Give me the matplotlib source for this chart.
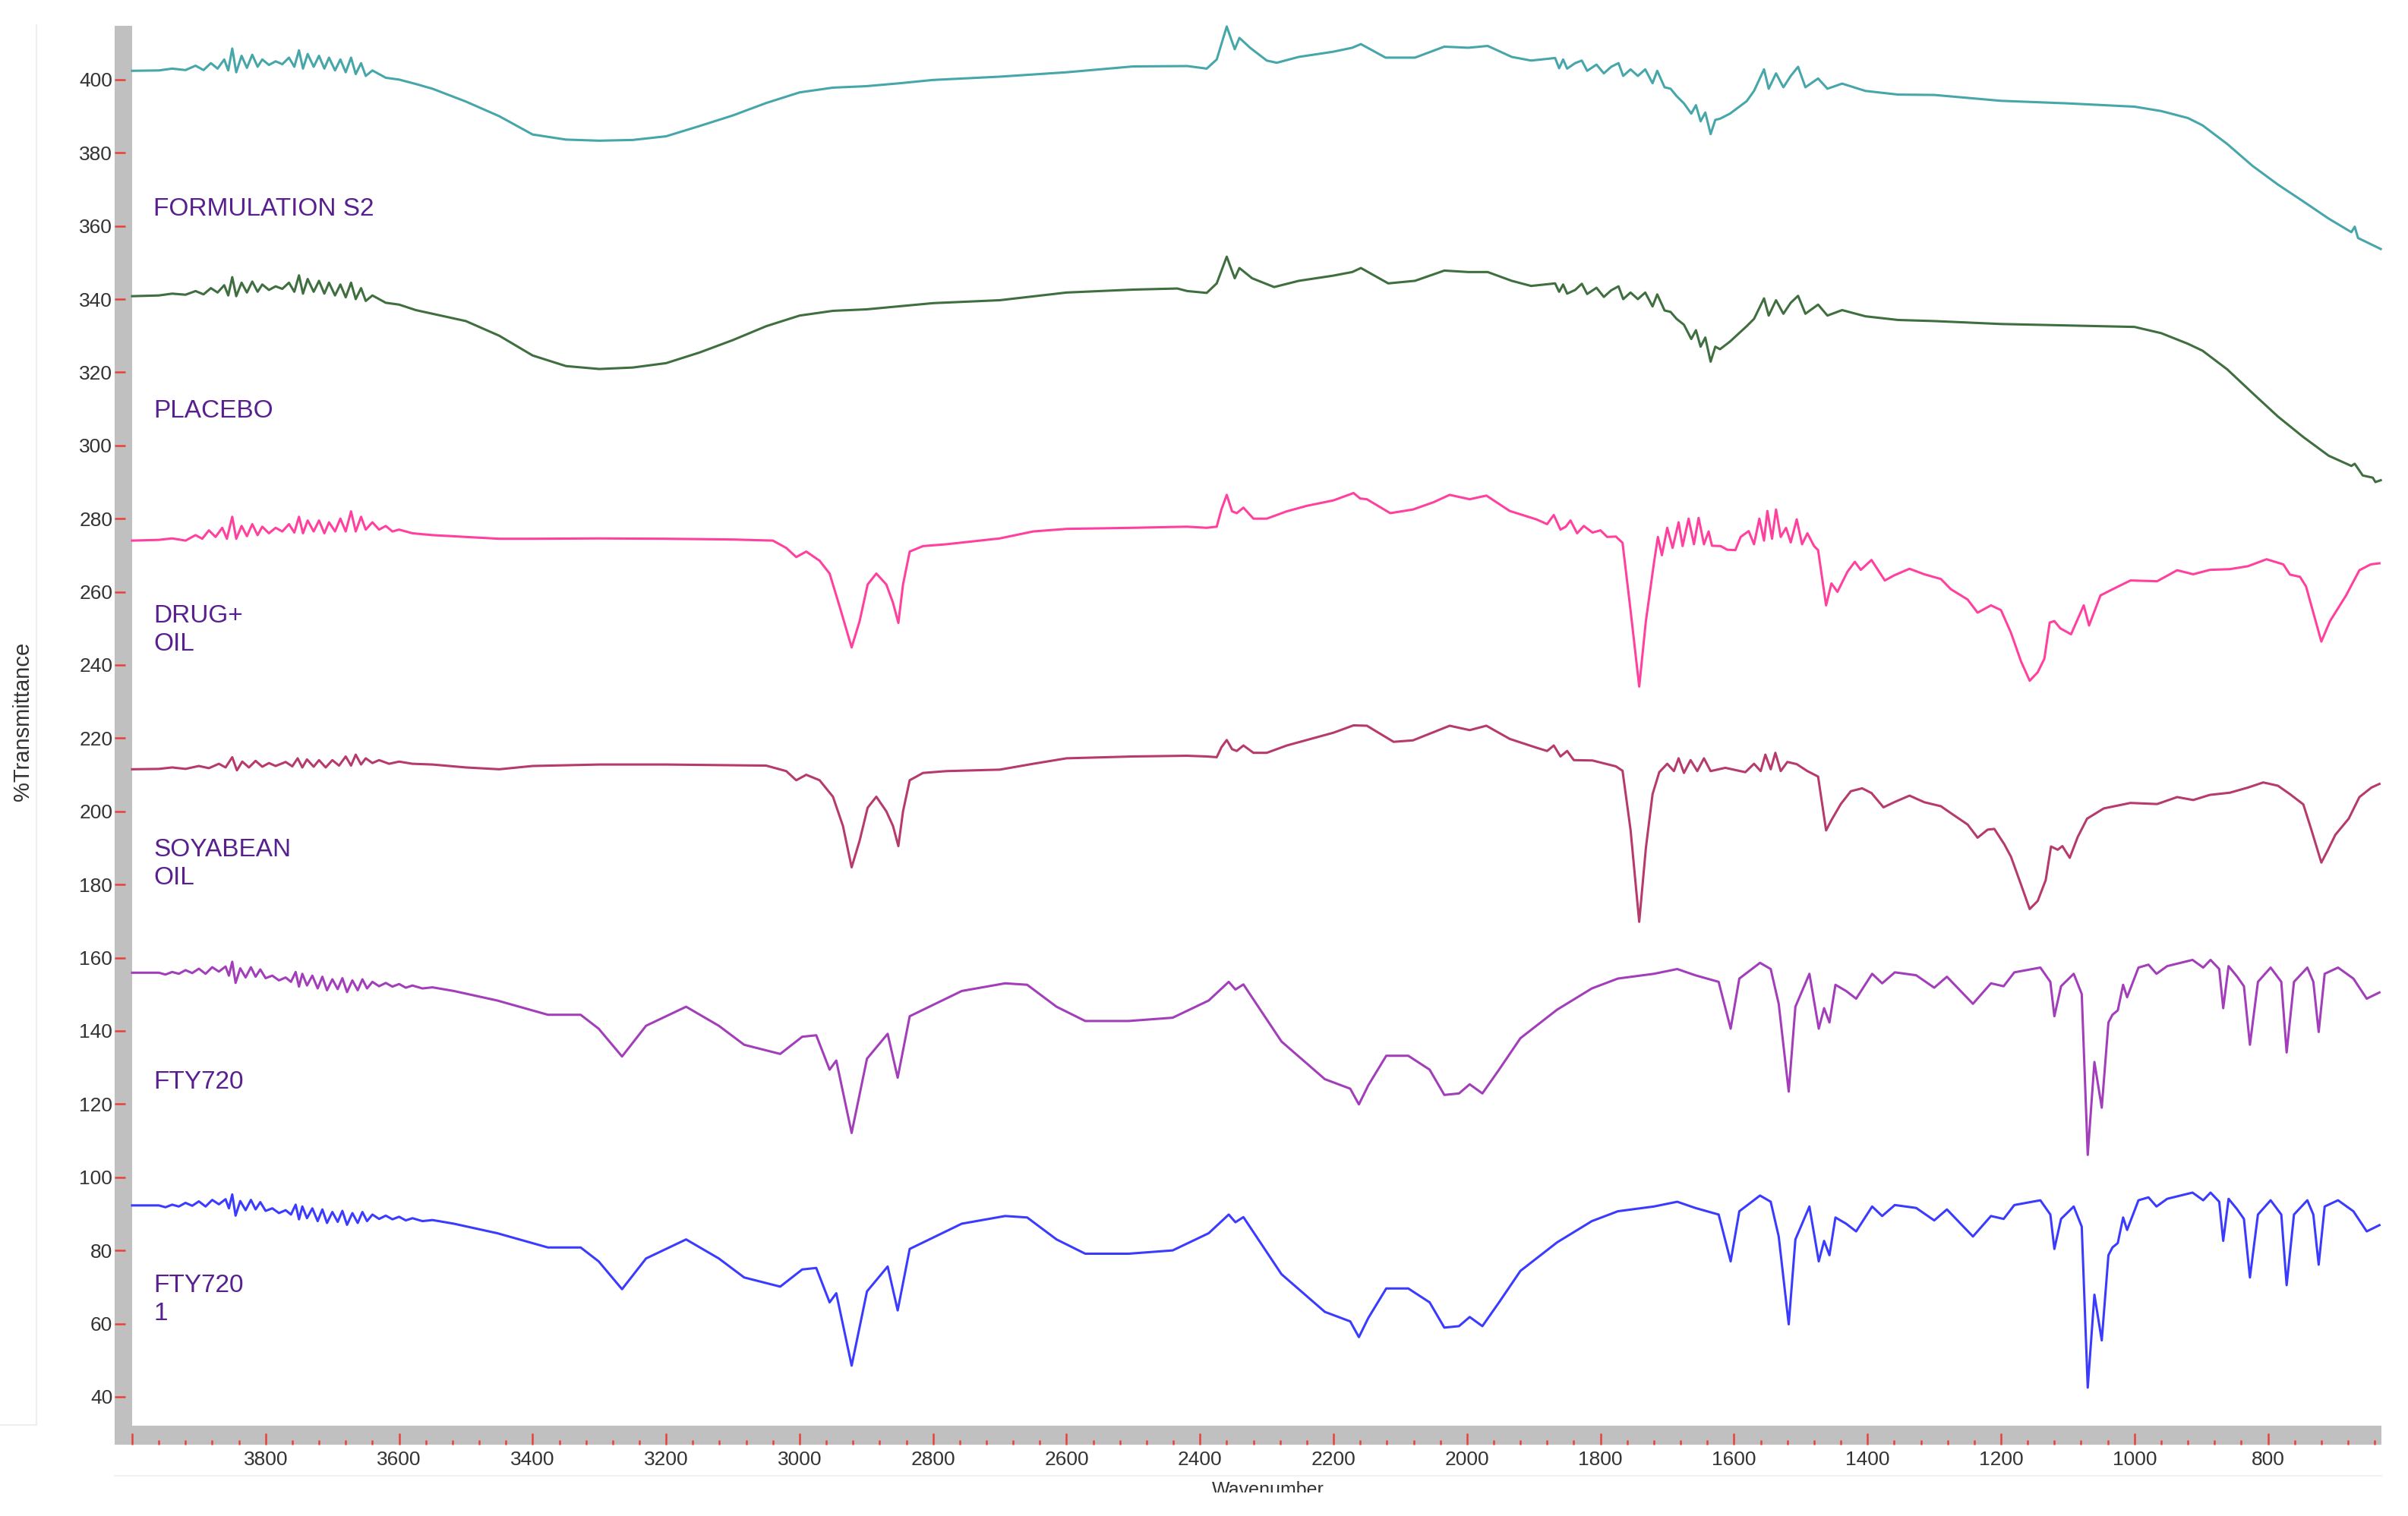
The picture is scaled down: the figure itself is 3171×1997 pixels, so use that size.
import numpy as np
import matplotlib.pyplot as plt
from matplotlib.patches import Rectangle
from matplotlib.lines import Line2D
from matplotlib.ticker import MultipleLocator, FuncFormatter

plt.rcParams['font.family'] = ['Liberation Sans', 'DejaVu Sans']

# (wavenumber, %T) pairs, one list per spectrum
formulation_s2 = [
    (4000, 402.4), (3960, 402.5), (3940, 403.0), (3920, 402.6), (3905, 403.8), (3893, 402.6),
    (3882, 404.5), (3872, 403.0), (3862, 405.5), (3856, 402.5), (3850, 408.5), (3844, 402.0),
    (3836, 406.5), (3828, 403.2), (3820, 406.8), (3812, 403.5), (3805, 405.5), (3795, 404.0),
    (3785, 405.0), (3775, 404.2), (3765, 406.0), (3757, 403.5), (3750, 408.0), (3744, 403.0),
    (3737, 407.0), (3728, 403.5), (3720, 406.5), (3712, 403.0), (3705, 406.0), (3696, 402.5),
    (3688, 405.5), (3680, 402.0), (3672, 406.0), (3665, 401.5), (3657, 404.5), (3650, 401.0),
    (3640, 402.5), (3620, 400.5), (3600, 400.0), (3575, 398.8), (3550, 397.5), (3500, 394.0),
    (3450, 390.0), (3400, 385.0), (3350, 383.6), (3300, 383.3), (3250, 383.5), (3200, 384.5),
    (3150, 387.3), (3100, 390.2), (3050, 393.6), (3000, 396.5), (2950, 397.8), (2900, 398.2),
    (2850, 399.0), (2800, 399.9), (2700, 400.8), (2600, 402.0), (2500, 403.6), (2419, 403.7),
    (2390, 403.0), (2375, 405.5), (2360, 414.5), (2348, 408.3), (2341, 411.4), (2325, 408.7),
    (2300, 405.2), (2285, 404.6), (2252, 406.2), (2201, 407.6), (2172, 408.7), (2159, 409.7),
    (2122, 406.0), (2078, 406.0), (2034, 409.0), (1998, 408.7), (1969, 409.2), (1933, 406.2),
    (1904, 405.2), (1868, 405.9), (1862, 403.1), (1856, 405.5), (1850, 403.0), (1838, 404.5),
    (1828, 405.2), (1820, 402.4), (1806, 404.1), (1795, 401.7), (1784, 403.5), (1773, 404.5),
    (1766, 401.0), (1755, 402.8), (1744, 401.0), (1733, 402.8), (1722, 399.0), (1715, 402.4),
    (1704, 397.9), (1695, 397.5), (1686, 395.5), (1675, 393.5), (1664, 390.7),
    (1657, 393.0), (1650, 388.6), (1643, 391.0), (1635, 385.1), (1628, 389.0), (1621, 389.3),
    (1606, 390.7), (1581, 394.1), (1570, 396.9), (1555, 402.8), (1548, 397.5), (1537, 401.7),
    (1526, 397.9), (1515, 401.0), (1504, 403.5), (1493, 397.9), (1474, 400.3), (1460, 397.5),
    (1438, 398.9), (1403, 396.9), (1354, 395.9), (1300, 395.8), (1200, 394.2), (1100, 393.5),
    (1000, 392.6), (960, 391.4), (920, 389.5), (898, 387.5), (861, 382.4), (823, 376.4),
    (785, 371.3), (747, 366.7), (709, 362.0), (675, 358.3), (670, 359.8), (665, 356.7),
    (631, 353.7),
]

placebo = [
    (4000, 340.8), (3960, 341.0), (3940, 341.5), (3920, 341.2), (3905, 342.2), (3893, 341.3),
    (3882, 343.0), (3872, 341.8), (3862, 343.8), (3856, 341.0), (3850, 346.0), (3844, 340.8),
    (3836, 344.5), (3828, 341.8), (3820, 344.8), (3812, 342.0), (3805, 344.0), (3795, 342.5),
    (3785, 343.5), (3775, 342.8), (3765, 344.5), (3757, 342.0), (3750, 346.5), (3744, 341.5),
    (3737, 345.5), (3728, 342.0), (3720, 345.0), (3712, 341.5), (3705, 344.5), (3696, 341.0),
    (3688, 344.0), (3680, 340.5), (3672, 344.5), (3665, 340.0), (3657, 343.0), (3650, 339.5),
    (3640, 341.0), (3620, 339.0), (3600, 338.5), (3575, 337.0), (3550, 336.0), (3500, 334.0),
    (3450, 330.0), (3400, 324.6), (3350, 321.7), (3300, 320.9), (3250, 321.3), (3200, 322.5),
    (3150, 325.4), (3100, 328.8), (3050, 332.6), (3000, 335.5), (2950, 336.8), (2900, 337.2),
    (2800, 338.9), (2700, 339.7), (2600, 341.8), (2500, 342.6), (2434, 342.9), (2419, 342.2),
    (2390, 341.7), (2375, 344.3), (2360, 351.6), (2348, 345.7), (2341, 348.5), (2322, 345.7),
    (2289, 343.3), (2252, 345.0), (2201, 346.4), (2172, 347.4), (2159, 348.5), (2118, 344.3),
    (2078, 345.0), (2034, 347.8), (1998, 347.4), (1969, 347.4), (1933, 345.0), (1904, 343.6),
    (1868, 344.3), (1862, 342.0), (1856, 344.0), (1850, 341.5), (1838, 342.5), (1828, 344.2),
    (1820, 341.4), (1806, 343.1), (1795, 340.6), (1784, 342.4), (1773, 343.5), (1766, 340.0),
    (1755, 341.8), (1744, 340.0), (1733, 341.8), (1722, 338.0), (1715, 341.3), (1704, 336.9),
    (1695, 336.5), (1686, 334.6), (1675, 333.0), (1664, 329.1), (1657, 331.5),
    (1650, 327.0), (1643, 329.5), (1635, 322.9), (1628, 327.0), (1621, 326.3), (1606, 328.4),
    (1581, 332.6), (1570, 334.6), (1555, 340.2), (1548, 335.5), (1537, 339.7), (1526, 336.0),
    (1515, 339.0), (1504, 340.9), (1493, 336.0), (1474, 338.5), (1460, 335.5), (1438, 337.0),
    (1403, 335.3), (1354, 334.3), (1300, 334.0), (1200, 333.2), (1100, 332.8), (1000, 332.4),
    (960, 330.7), (920, 327.8), (898, 325.9), (861, 320.8), (823, 314.3), (785, 307.9),
    (747, 302.3), (709, 297.2), (675, 294.4), (670, 295.0), (658, 291.8), (643, 291.2),
    (639, 290.0), (631, 290.5),
]

drug_oil = [
    (4000, 274.0), (3960, 274.2), (3940, 274.6), (3920, 274.0), (3905, 275.5), (3895, 274.5),
    (3885, 276.8), (3875, 275.0), (3865, 277.5), (3858, 274.5), (3850, 280.5), (3844, 274.5),
    (3836, 278.0), (3828, 275.2), (3820, 278.5), (3812, 275.5), (3805, 277.8), (3795, 276.0),
    (3785, 277.5), (3775, 276.5), (3765, 278.5), (3757, 276.2), (3750, 280.5), (3744, 276.0),
    (3737, 279.5), (3728, 276.5), (3720, 279.5), (3712, 276.0), (3705, 279.0), (3696, 276.5),
    (3688, 280.0), (3680, 276.5), (3672, 282.0), (3665, 276.5), (3657, 280.5), (3650, 277.0),
    (3640, 279.0), (3630, 277.0), (3620, 278.0), (3610, 276.5), (3600, 277.0), (3580, 276.0),
    (3550, 275.5), (3500, 275.0), (3450, 274.5), (3400, 274.5), (3300, 274.6), (3200, 274.5),
    (3100, 274.3), (3040, 274.0), (3020, 272.0), (3005, 269.5), (2990, 271.0), (2970, 268.5),
    (2955, 265.0), (2940, 256.0), (2922, 244.8), (2910, 252.0), (2898, 262.0), (2885, 265.0),
    (2870, 262.0), (2860, 257.0), (2852, 251.5), (2845, 262.0), (2835, 271.0), (2815, 272.5),
    (2780, 273.0), (2700, 274.6), (2650, 276.5), (2600, 277.2), (2500, 277.5), (2420, 277.8),
    (2390, 277.5), (2375, 277.8), (2368, 282.5), (2360, 286.5), (2352, 282.0), (2345, 281.5),
    (2335, 283.0), (2320, 280.0), (2300, 280.0), (2270, 282.0), (2240, 283.5), (2200, 285.0),
    (2170, 287.0), (2160, 285.5), (2150, 285.3), (2115, 281.5), (2081, 282.5), (2050, 284.5),
    (2026, 286.5), (1996, 285.3), (1971, 286.3), (1936, 282.1), (1896, 279.8), (1880, 278.5),
    (1870, 281.0), (1860, 277.0), (1852, 277.8), (1845, 279.5), (1835, 276.0), (1825, 278.0),
    (1812, 276.2), (1800, 276.8), (1790, 275.0), (1777, 275.1), (1767, 273.4), (1755, 255.0),
    (1742, 234.1), (1732, 252.0), (1720, 267.8), (1714, 275.0), (1708, 270.0), (1700, 277.5),
    (1692, 272.0), (1683, 279.0), (1677, 272.5), (1668, 280.0), (1660, 273.0), (1653, 280.2),
    (1645, 273.0), (1638, 276.5), (1633, 272.6), (1620, 272.5), (1610, 271.5), (1598, 271.4),
    (1590, 275.0), (1578, 276.6), (1570, 273.0), (1562, 280.0), (1555, 274.0), (1550, 282.1),
    (1543, 274.5), (1537, 282.5), (1530, 275.0), (1522, 277.5), (1515, 273.5), (1506, 279.8),
    (1498, 273.0), (1490, 276.0), (1480, 272.5), (1474, 271.4), (1462, 256.3), (1454, 262.3),
    (1445, 260.0), (1430, 265.5), (1419, 268.2), (1410, 266.0), (1394, 268.7), (1374, 263.1),
    (1360, 264.5), (1337, 266.3), (1315, 264.8), (1290, 263.5), (1275, 260.7), (1250, 257.9),
    (1235, 254.3), (1215, 256.3), (1200, 255.0), (1185, 248.8), (1170, 241.0), (1157, 235.7),
    (1145, 238.0), (1135, 241.7), (1127, 251.6), (1120, 252.0), (1111, 250.0), (1095, 248.4),
    (1076, 256.3), (1068, 250.8), (1051, 259.0), (1035, 260.5), (1006, 263.1), (966, 262.9),
    (936, 265.9), (912, 264.8), (887, 266.0), (857, 266.2), (830, 267.0), (802, 268.9),
    (777, 267.5), (767, 264.7), (752, 264.1), (743, 261.5), (730, 253.0), (720, 246.4),
    (707, 252.0), (683, 259.0), (663, 265.9), (646, 267.5), (633, 267.8),
]

soyabean_oil = [
    (4000, 211.5), (3960, 211.6), (3940, 212.0), (3920, 211.6), (3900, 212.4), (3885, 211.8),
    (3870, 213.0), (3860, 212.0), (3850, 214.8), (3843, 211.2), (3835, 213.6), (3825, 212.0),
    (3815, 213.8), (3805, 212.2), (3795, 213.2), (3785, 212.4), (3770, 213.5), (3760, 212.3),
    (3752, 214.5), (3745, 212.0), (3738, 214.2), (3728, 212.2), (3720, 214.0), (3710, 212.0),
    (3700, 214.0), (3690, 212.5), (3680, 215.0), (3672, 212.5), (3665, 215.5), (3657, 212.8),
    (3650, 214.5), (3640, 213.2), (3630, 214.0), (3615, 213.0), (3600, 213.6), (3580, 213.0),
    (3550, 212.8), (3500, 212.0), (3450, 211.5), (3400, 212.4), (3300, 212.8), (3200, 212.8),
    (3100, 212.6), (3050, 212.5), (3020, 211.0), (3005, 208.5), (2990, 210.0), (2970, 208.5),
    (2950, 204.0), (2935, 196.0), (2922, 184.7), (2910, 192.0), (2898, 201.0), (2885, 204.0),
    (2870, 200.0), (2860, 196.0), (2852, 190.5), (2845, 200.0), (2835, 208.5), (2815, 210.5),
    (2780, 211.0), (2700, 211.4), (2650, 213.0), (2600, 214.5), (2500, 215.0), (2420, 215.2),
    (2390, 215.0), (2375, 214.8), (2368, 217.5), (2360, 219.5), (2352, 217.0), (2345, 216.5),
    (2335, 218.0), (2320, 216.0), (2300, 216.0), (2270, 218.0), (2240, 219.5), (2200, 221.5),
    (2170, 223.5), (2150, 223.4), (2110, 219.0), (2081, 219.4), (2026, 223.4), (1996, 222.2),
    (1971, 223.4), (1936, 219.8), (1896, 217.4), (1880, 216.5), (1870, 218.0), (1860, 215.0),
    (1850, 216.5), (1840, 214.0), (1812, 213.9), (1777, 212.3), (1767, 211.1), (1755, 195.0),
    (1742, 169.8), (1732, 190.0), (1722, 204.7), (1712, 210.7), (1700, 213.0), (1690, 211.0),
    (1683, 214.5), (1675, 210.5), (1665, 214.0), (1655, 211.0), (1645, 214.5), (1635, 211.0),
    (1613, 211.9), (1583, 210.7), (1570, 213.0), (1560, 211.0), (1553, 215.5), (1545, 211.5),
    (1538, 216.0), (1530, 211.0), (1520, 213.5), (1506, 212.9), (1490, 211.0), (1474, 209.5),
    (1462, 194.8), (1454, 197.6), (1440, 202.0), (1425, 205.5), (1408, 206.3), (1394, 205.0),
    (1376, 201.1), (1360, 202.5), (1337, 204.3), (1315, 202.5), (1290, 201.4), (1275, 199.5),
    (1250, 196.4), (1235, 192.8), (1220, 195.0), (1210, 195.2), (1195, 191.0), (1185, 187.6),
    (1170, 180.0), (1157, 173.3), (1145, 175.5), (1133, 181.2), (1125, 190.4), (1115, 189.5),
    (1108, 190.5), (1097, 187.3), (1085, 193.0), (1071, 198.0), (1046, 200.8), (1006, 202.3),
    (966, 202.0), (936, 203.9), (912, 203.1), (887, 204.5), (857, 205.1), (830, 206.5),
    (807, 207.9), (785, 207.0), (767, 204.7), (747, 201.9), (735, 195.0), (720, 186.0),
    (710, 189.5), (699, 193.6), (679, 198.0), (663, 203.9), (645, 206.5), (633, 207.5),
]

fty720 = [
    (4000, 155.9), (3960, 155.9), (3950, 155.4), (3940, 156.1), (3930, 155.6), (3920, 156.6),
    (3910, 155.8), (3900, 157.0), (3890, 155.6), (3880, 157.4), (3870, 156.2), (3860, 157.6),
    (3855, 155.1), (3850, 158.9), (3845, 153.1), (3838, 157.1), (3830, 154.6), (3822, 157.4),
    (3815, 154.8), (3808, 156.8), (3800, 154.4), (3790, 155.1), (3780, 153.8), (3770, 154.6),
    (3762, 153.4), (3755, 156.1), (3750, 152.1), (3745, 155.6), (3738, 152.4), (3730, 155.1),
    (3722, 151.6), (3715, 154.8), (3708, 151.1), (3700, 154.1), (3692, 151.4), (3685, 154.4),
    (3678, 150.6), (3670, 153.8), (3662, 151.1), (3655, 154.1), (3648, 151.6), (3640, 153.4),
    (3630, 152.2), (3620, 153.1), (3610, 152.1), (3600, 152.8), (3590, 151.8), (3580, 152.4),
    (3565, 151.6), (3550, 151.9), (3518, 150.9), (3453, 148.3), (3377, 144.4), (3328, 144.4),
    (3301, 140.6), (3266, 133.0), (3230, 141.4), (3170, 146.6), (3121, 141.4), (3083, 136.2),
    (3029, 133.7), (2996, 138.4), (2975, 138.8), (2955, 129.4), (2945, 131.9), (2922, 112.1),
    (2899, 132.4), (2868, 139.2), (2853, 127.2), (2835, 144.0), (2757, 150.9), (2692, 153.0),
    (2659, 152.6), (2615, 146.6), (2572, 142.7), (2507, 142.7), (2441, 143.6), (2387, 148.3),
    (2357, 153.4), (2347, 151.3), (2335, 152.7), (2316, 147.5), (2278, 137.1), (2213, 126.8),
    (2175, 124.2), (2162, 119.9), (2148, 125.1), (2121, 133.2), (2088, 133.2), (2056, 129.4),
    (2034, 122.5), (2012, 122.9), (1996, 125.4), (1977, 122.9), (1952, 129.4), (1920, 138.0),
    (1865, 145.8), (1813, 151.6), (1774, 154.3), (1720, 155.6), (1685, 156.9), (1658, 155.2),
    (1623, 153.4), (1605, 140.6), (1592, 154.3), (1561, 158.6), (1545, 156.9), (1533, 147.4),
    (1518, 123.4), (1508, 146.6), (1487, 155.6), (1473, 140.6), (1465, 146.2), (1457, 142.3),
    (1448, 152.6), (1432, 150.9), (1417, 148.8), (1393, 155.6), (1378, 153.0), (1359, 156.0),
    (1327, 155.2), (1300, 151.8), (1281, 154.8), (1242, 147.4), (1215, 153.0), (1196, 152.2),
    (1180, 156.0), (1141, 157.3), (1126, 153.4), (1120, 144.0), (1110, 152.2), (1091, 155.6),
    (1079, 150.1), (1070, 106.1), (1060, 131.5), (1049, 119.0), (1039, 142.3), (1033, 144.4),
    (1025, 145.6), (1017, 152.6), (1011, 149.2), (994, 157.3), (979, 158.1), (967, 155.6),
    (951, 157.7), (913, 159.4), (897, 157.3), (886, 159.4), (873, 156.9), (867, 146.2),
    (859, 157.7), (846, 154.8), (836, 152.2), (827, 136.2), (815, 153.4), (796, 157.3),
    (780, 153.4), (772, 134.1), (761, 153.4), (741, 157.3), (732, 153.4), (724, 139.7),
    (715, 155.6), (695, 157.3), (672, 154.3), (652, 148.8), (633, 150.5),
]

fty720_1 = [
    (4000, 92.3), (3960, 92.3), (3950, 91.8), (3940, 92.5), (3930, 92.0), (3920, 93.0),
    (3910, 92.2), (3900, 93.4), (3890, 92.0), (3880, 93.8), (3870, 92.6), (3860, 94.0),
    (3855, 91.5), (3850, 95.3), (3845, 89.5), (3838, 93.5), (3830, 91.0), (3822, 93.8),
    (3815, 91.2), (3808, 93.2), (3800, 90.8), (3790, 91.5), (3780, 90.2), (3770, 91.0),
    (3762, 89.8), (3755, 92.5), (3750, 88.5), (3745, 92.0), (3738, 88.8), (3730, 91.5),
    (3722, 88.0), (3715, 91.2), (3708, 87.5), (3700, 90.5), (3692, 87.8), (3685, 90.8),
    (3678, 87.0), (3670, 90.2), (3662, 87.5), (3655, 90.5), (3648, 88.0), (3640, 89.8),
    (3630, 88.6), (3620, 89.5), (3610, 88.5), (3600, 89.2), (3590, 88.2), (3580, 88.8),
    (3565, 88.0), (3550, 88.3), (3518, 87.3), (3453, 84.7), (3377, 80.8), (3328, 80.8),
    (3301, 77.0), (3266, 69.4), (3230, 77.8), (3170, 83.0), (3121, 77.8), (3083, 72.6),
    (3029, 70.1), (2996, 74.8), (2975, 75.2), (2955, 65.8), (2945, 68.3), (2922, 48.5),
    (2899, 68.8), (2868, 75.6), (2853, 63.6), (2835, 80.4), (2757, 87.3), (2692, 89.4),
    (2659, 89.0), (2615, 83.0), (2572, 79.1), (2507, 79.1), (2441, 80.0), (2387, 84.7),
    (2357, 89.8), (2347, 87.7), (2335, 89.1), (2316, 83.9), (2278, 73.5), (2213, 63.2),
    (2175, 60.6), (2162, 56.3), (2148, 61.5), (2121, 69.6), (2088, 69.6), (2056, 65.8),
    (2034, 58.9), (2012, 59.3), (1996, 61.8), (1977, 59.3), (1952, 65.8), (1920, 74.4),
    (1865, 82.2), (1813, 88.0), (1774, 90.7), (1720, 92.0), (1685, 93.3), (1658, 91.6),
    (1623, 89.8), (1605, 77.0), (1592, 90.7), (1561, 95.0), (1545, 93.3), (1533, 83.8),
    (1518, 59.8), (1508, 83.0), (1487, 92.0), (1473, 77.0), (1465, 82.6), (1457, 78.7),
    (1448, 89.0), (1432, 87.3), (1417, 85.2), (1393, 92.0), (1378, 89.4), (1359, 92.4),
    (1327, 91.6), (1300, 88.2), (1281, 91.2), (1242, 83.8), (1215, 89.4), (1196, 88.6),
    (1180, 92.4), (1141, 93.7), (1126, 89.8), (1120, 80.4), (1110, 88.6), (1091, 92.0),
    (1079, 86.5), (1070, 42.5), (1060, 67.9), (1049, 55.4), (1039, 78.7), (1033, 80.8),
    (1025, 82.0), (1017, 89.0), (1011, 85.6), (994, 93.7), (979, 94.5), (967, 92.0),
    (951, 94.1), (913, 95.8), (897, 93.7), (886, 95.8), (873, 93.3), (867, 82.6),
    (859, 94.1), (846, 91.2), (836, 88.6), (827, 72.6), (815, 89.8), (796, 93.7),
    (780, 89.8), (772, 70.5), (761, 89.8), (741, 93.7), (732, 89.8), (724, 76.1),
    (715, 92.0), (695, 93.7), (672, 90.7), (652, 85.2), (633, 86.9),
]

spectra = [formulation_s2, placebo, drug_oil, soyabean_oil, fty720, fty720_1]
colors = ['#46a6a9', '#3f6e3f', '#ff409e', '#b63a6c', '#a23eba', '#3b3bff']

# sample names, written inside the plot at (wavenumber, %T)
names = ['FORMULATION S2', 'PLACEBO', 'DRUG+\nOIL', 'SOYABEAN\nOIL', 'FTY720', 'FTY720\n1']
name_y = [364.5, 309.5, 249.5, 185.7, 125.9, 66.6]
name_x = 3968

fig = plt.figure(figsize=(31.71, 19.97), dpi=100)
ax = fig.add_axes([0.05487, 0.05959, 0.93409, 0.92363])

for data, c in zip(spectra, colors):
    arr = np.array(data)
    ax.plot(arr[:, 0], arr[:, 1], color=c, lw=2.2, clip_on=False)

for txt, y in zip(names, name_y):
    ax.text(name_x, y, txt, color='#58208e', fontsize=24, va='center', ha='left',
            linespacing=1.25)

ax.set_xlim(4000, 630)
ax.set_ylim(32.1, 414.8)

for s in ['top', 'right']:
    ax.spines[s].set_visible(False)
ax.spines['left'].set_position(('outward', 16.5))
ax.spines['bottom'].set_position(('outward', 18))
ax.spines['left'].set_linewidth(0)
ax.spines['bottom'].set_linewidth(0)

ax.set_yticks(np.arange(40, 401, 20))
ax.xaxis.set_major_locator(MultipleLocator(200))
ax.xaxis.set_minor_locator(MultipleLocator(40))
ax.xaxis.set_major_formatter(FuncFormatter(lambda v, p: '' if v > 3990 else '%d' % v))

ax.tick_params(axis='y', direction='in', length=10, width=1.8, color='#e8413c',
               labelsize=19, labelcolor='#333333', pad=2)
ax.tick_params(axis='x', which='major', direction='in', length=10.5, width=1.8,
               color='#e8413c', labelsize=19, labelcolor='#333333', pad=6)
ax.tick_params(axis='x', which='minor', direction='in', length=4.5, width=1.8,
               color='#e8413c')

# grey frame bars behind the ticks
fig.patches.append(Rectangle((0.04762, 0.04707), 0.00725, 0.93614, transform=fig.transFigure,
                             facecolor='#c0c0c0', edgecolor='none', zorder=-1))
fig.patches.append(Rectangle((0.04762, 0.04707), 0.94134, 0.01252, transform=fig.transFigure,
                             facecolor='#c0c0c0', edgecolor='none', zorder=-1))

# faint outer border
fig.lines.append(Line2D([0.0151, 0.0151], [0.0601, 0.9835], transform=fig.transFigure,
                        color='#eeeeee', lw=1.5))
fig.lines.append(Line2D([0.0, 0.0151], [0.0601, 0.0601], transform=fig.transFigure,
                        color='#eeeeee', lw=1.5))
fig.lines.append(Line2D([0.0476, 0.989], [0.0265, 0.0265], transform=fig.transFigure,
                        color='#f2f2f2', lw=1.5))

fig.text(0.0095, 0.524, '%Transmittance', rotation=90, fontsize=21, color='#333333',
         ha='center', va='center')
fig.text(0.5266, 0.0135, 'Wavenumber', fontsize=18, color='#333333', ha='center', va='baseline')
# bottom of the axis title is cut off in the original
fig.patches.append(Rectangle((0, 0), 1, 0.0155, transform=fig.transFigure,
                             facecolor='white', edgecolor='none', zorder=10))

fig.savefig('out.png', dpi=100)
